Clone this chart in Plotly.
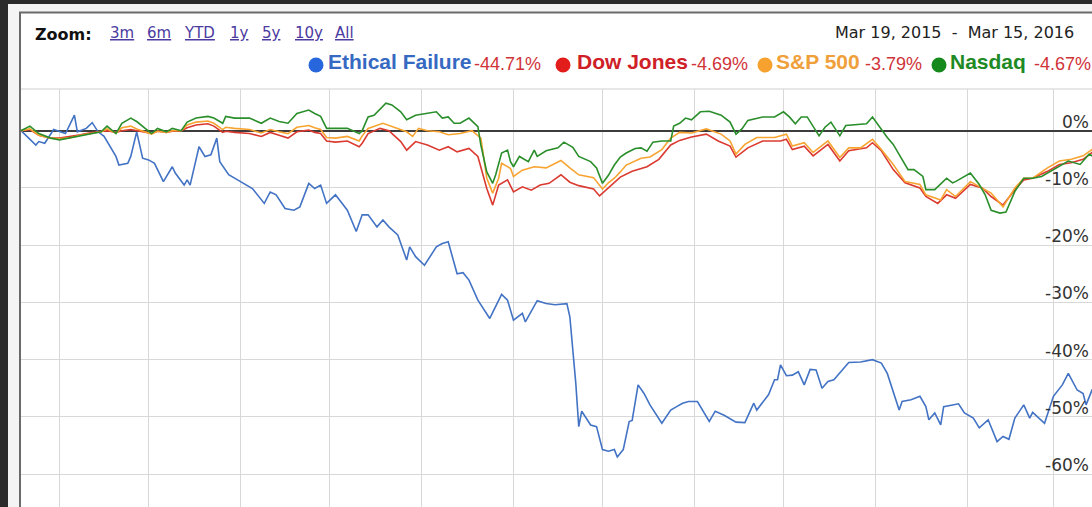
import pandas as pd
import plotly.graph_objects as go

# ---------------- data ----------------
start_date = "2015-03-19"
end_view = "2016-03-14"

# day offsets from start date and % change values
days_ef = [0,5,6,8,11,13,15,18,19,22,24,26,28,32,33,36,37,39,41,43,45,48,51,52,55,56,57,60,62,64,
           66,67,70,73,75,78,82,84,86,89,92,94,97,99,101,103,106,110,113,115,117,120,122,124,127,130,131,133,136,140,
           142,144,147,149,151,154,158,160,162,164,166,169,170,174,177,180,184,185,187,188,189,192,194,196,198,200,201,203,205,206,
           208,210,212,216,219,221,223,225,228,232,234,237,241,244,247,248,252,254,255,256,258,260,262,264,266,268,270,272,274,279,
           283,287,290,292,294,296,297,300,303,305,306,308,310,311,314,316,318,321,323,326,329,331,333,335,338,340,341,345,348,351,
           353,356,358,359,361,362]
ethical = [0,-2.5,-1.9,-2.2,0.2,-0.2,-0.5,2.7,-0.2,0.4,1.4,-0.2,-1.0,-4.5,-6.0,-5.7,-4.5,-0.2,-4.8,-5.1,
           -5.7,-8.9,-6.3,-7.4,-9.5,-8.6,-9.5,-2.8,-4.5,-4.2,-1.3,-5.4,-7.7,-8.6,-9.2,-10.1,-12.7,-10.7,-11.2,-13.6,
           -13.9,-13.3,-9.2,-10.1,-9.5,-12.7,-11.2,-13.9,-17.6,-14.7,-14.7,-16.8,-15.6,-16.8,-18.2,-22.6,-20.3,-22.0,-23.5,-20.3,
           -19.7,-19.4,-25.0,-24.8,-26.1,-29.6,-32.8,-30.7,-28.6,-29.6,-33.1,-31.9,-33.4,-29.7,-30.2,-30.4,-30.2,-32.5,-44.1,-51.7,
           -49.0,-51.4,-51.7,-55.7,-56.0,-55.7,-57.0,-55.7,-50.8,-50.6,-44.4,-45.9,-47.9,-51.1,-48.8,-48.2,-47.6,-47.3,-47.3,-50.8,
           -49.0,-49.7,-50.9,-51.0,-47.6,-48.8,-46.1,-43.5,-43.5,-40.9,-42.8,-42.7,-42.1,-44.4,-41.7,-41.8,-45.0,-43.8,-43.5,-40.5,
           -40.4,-40.0,-40.6,-42.4,-45.6,-48.8,-47.3,-47.0,-46.4,-48.2,-50.5,-49.3,-51.4,-48.2,-47.9,-47.7,-49.3,-50.2,-51.9,-50.5,
           -54.3,-53.4,-53.9,-50.2,-47.9,-50.2,-49.2,-51.1,-46.4,-44.4,-42.4,-45.3,-45.9,-47.9,-45.3,-44.71]

days_nq = [0,3,6,10,13,17,20,23,27,29,32,34,37,39,42,44,46,49,51,54,56,59,63,65,68,69,72,77,81,84,
           87,90,93,97,99,101,103,106,110,114,115,117,119,123,125,128,130,133,137,140,142,144,146,148,151,154,155,157,159,160,
           162,164,165,166,168,171,173,174,177,181,183,186,188,192,194,196,198,200,202,204,207,209,211,213,216,219,220,222,224,226,
           229,232,236,239,241,243,245,250,254,257,259,261,263,265,269,271,273,276,278,283,285,287,289,292,294,297,299,301,304,305,
           308,312,314,315,320,323,325,327,330,332,335,338,341,344,350,353,357,360,362]
nasdaq = [0,0.8,-0.5,-1.3,-1.6,-1.2,-1.0,-0.6,-0.2,0.8,-0.5,1.3,2.2,1.6,0.4,-0.5,0.4,-0.2,0.4,0,1.5,2.2,2.5,2.2,1.3,2.5,2.2,2.2,1.3,2.2,
          1.6,1.3,3.0,3.6,3.0,2.5,0.4,0.4,0.4,-0.5,0,2.4,2.7,4.8,4.5,3.3,1.9,2.7,3.0,3.3,2.2,2.4,1.3,1.3,2.2,0.7,-2.5,-7.2,-9.2,-7.7,
          -3.9,-3.4,-5.4,-6.3,-4.5,-5.4,-3.4,-4.5,-3.5,-3.0,-2.0,-2.9,-4.5,-5.4,-6.5,-9.2,-7.8,-6.0,-4.6,-3.9,-3.1,-3.0,-3.6,-2.0,-1.8,-1.8,0.8,1.3,2.2,1.9,
          3.3,3.4,2.7,1.5,-0.6,0.3,1.8,2.4,2.4,3.3,2.4,1.2,2.4,2.4,-0.9,0.6,1.5,-0.9,0.9,1.2,1.2,2.4,0.9,-1.2,-2.4,-5.0,-6.8,-6.8,-8.0,-10.3,
          -10.3,-8.3,-9.1,-8.9,-7.4,-9.4,-11.2,-13.9,-14.4,-14.2,-10.6,-8.3,-8.3,-8.0,-6.2,-5.3,-5.9,-4.1,-4.67]

days_sp = [0,3,6,10,13,17,20,23,27,29,32,34,37,39,42,44,46,49,51,54,56,59,63,65,68,69,72,77,81,84,
           87,90,93,97,99,101,103,106,110,114,115,117,122,125,130,132,134,137,141,144,148,152,155,157,159,161,162,165,166,169,
           173,177,182,185,188,193,196,198,200,202,204,209,212,216,219,222,226,231,236,239,241,244,248,254,258,260,264,267,272,276,
           279,283,287,290,294,298,303,305,310,312,315,320,323,327,331,335,338,341,346,350,354,358,361,362]
sp500 = [0,0.3,-0.8,-1.3,-1.4,-1.2,-0.8,-0.5,-0.2,0.3,-0.4,0.5,0.8,0.3,-0.3,-0.6,-0.1,-0.3,0,0,1.0,1.5,1.7,1.3,0.2,0.6,0.4,0.2,-0.4,0.2,
         -0.2,-0.5,0.6,0.9,0.5,0.2,-1.2,-1.3,-1.0,-1.8,-0.9,0.4,1.3,0.7,-0.2,-1.0,0.4,0,-0.2,-0.7,-0.5,0,-1.3,-8.3,-10.9,-8.3,-5.7,-6.6,-8.0,-6.9,
         -6.3,-6.5,-5.2,-6.5,-7.7,-8.2,-10.2,-9.1,-8.3,-7.2,-6.0,-4.8,-4.6,-3.3,-1.3,-0.3,-0.4,0.3,-0.6,-1.8,-4.1,-2.4,-1.2,-1.2,-0.6,-2.7,-2.1,-3.8,-1.8,-4.7,
         -3.0,-3.0,-1.5,-3.3,-5.9,-8.9,-9.4,-11.2,-12.1,-10.3,-11.5,-8.9,-9.7,-10.9,-13.3,-10.0,-8.3,-8.3,-6.5,-5.3,-5.0,-4.4,-3.3,-3.79]

days_dj = [0,3,6,10,13,17,20,23,27,29,32,34,37,39,42,44,46,49,51,54,56,59,63,65,68,69,72,77,81,84,
           87,90,93,97,99,101,103,106,110,114,115,117,121,124,128,130,133,137,141,144,147,151,154,157,159,161,164,166,169,172,
           175,178,182,185,188,193,195,198,202,206,211,215,219,222,226,231,235,239,241,245,250,256,258,260,264,267,272,276,279,285,
           287,290,294,298,303,305,309,312,315,320,324,327,331,335,338,341,346,350,354,358,361,362]
dow = [0,0.2,-0.8,-1.3,-1.3,-1.0,-0.7,-0.4,-0.2,0,-0.3,0,0.2,0,-0.3,-0.5,-0.1,-0.3,-0.1,0,0.5,1.0,1.2,0.8,-0.3,-0.1,-0.3,-0.5,-1.0,-0.3,
       -0.8,-1.3,-0.2,0.1,-0.3,-0.5,-1.8,-2.0,-1.8,-2.8,-2.2,-0.5,0.4,0,-1.9,-3.4,-1.9,-2.5,-3.4,-2.8,-3.7,-3.1,-4.5,-10.1,-13.0,-9.5,-8.6,-10.7,-9.8,-10.4,
       -9.5,-9.2,-7.7,-9.0,-9.6,-10.2,-11.4,-10.0,-8.1,-7.1,-6.3,-5.0,-2.5,-1.7,-1.1,-0.6,-1.8,-2.7,-4.6,-3.0,-1.8,-1.8,-1.5,-3.3,-2.7,-4.4,-2.4,-5.3,-3.5,-3.0,
       -2.1,-3.5,-6.8,-9.1,-10.0,-11.5,-12.7,-11.2,-11.8,-9.4,-10.0,-11.5,-13.0,-10.3,-8.6,-8.3,-7.1,-5.9,-5.6,-5.0,-3.8,-4.69]

series_names = ["Ethical Failure", "Dow Jones", "S&P 500", "Nasdaq"]
series_changes = ["-44.71%", "-4.69%", "-3.79%", "-4.67%"]
tick_vals = [0, -10, -20, -30, -40, -50, -60]
tick_text = ["0%", "-10%", "-20%", "-30%", "-40%", "-50%", "-60%"]
zoom_links = ["3m", "6m", "YTD", "1y", "5y", "10y", "All"]
date_range_text = "Mar 19, 2015\u00a0\u00a0-\u00a0\u00a0Mar 15, 2016"

# ---------------- styling / layout ----------------
W, H = 1092, 507
L, T = 21, 89
Y_RANGE = [-65.73, 7.28]

def fx(px):
    return (px - L) / (W - L)

def fy(py):
    return (H - py) / (H - T)

def to_dates(days):
    s = pd.Timestamp(start_date)
    return [s + pd.Timedelta(days=d) for d in days]

line_colors = ["#4373c4", "#db3a30", "#f8a431", "#2a8e2b"]
dot_colors = ["#2766dd", "#e31c1c", "#f7a22f", "#15891c"]
name_colors = ["#3569c2", "#cf2027", "#f0a03a", "#1e8a24"]
pct_color = "#d03338"

fig = go.Figure()
all_days = [days_ef, days_dj, days_sp, days_nq]
all_vals = [ethical, dow, sp500, nasdaq]
for i in range(4):
    fig.add_trace(go.Scatter(
        x=to_dates(all_days[i]), y=all_vals[i], mode="lines",
        line=dict(color=line_colors[i], width=1.6),
        name=series_names[i], hoverinfo="skip",
    ))

shapes = [
    dict(type="rect", xref="paper", yref="paper", x0=fx(8), x1=fx(1110), y0=fy(530), y1=fy(4),
         fillcolor="#f4f4f4", line=dict(width=0), layer="below"),
    dict(type="rect", xref="paper", yref="paper", x0=fx(20), x1=fx(1120), y0=fy(540), y1=fy(12.5),
         fillcolor="white", line=dict(color="#6a6a6a", width=2), layer="below"),
    dict(type="line", xref="paper", yref="paper", x0=0, x1=1, y0=1, y1=1,
         line=dict(color="#cfcfcf", width=1), layer="below"),
]

# legend dots
dot_centers = [316, 563, 765, 939]
dot_r = 7.5
for cx, col in zip(dot_centers, dot_colors):
    shapes.append(dict(type="circle", xref="paper", yref="paper",
                       x0=fx(cx - dot_r), x1=fx(cx + dot_r), y0=fy(65 + dot_r), y1=fy(65 - dot_r),
                       fillcolor=col, line=dict(width=0), layer="above"))

annotations = []
annotations.append(dict(text="<b>Zoom:</b>", xref="paper", yref="paper", x=fx(33), y=fy(34),
                        xanchor="left", yanchor="middle", showarrow=False,
                        font=dict(family="DejaVu Sans", size=16, color="#111111")))
link_x = [108, 145, 182, 228, 260, 293, 333]
for t, lx in zip(zoom_links, link_x):
    annotations.append(dict(text=t, xref="paper", yref="paper", x=fx(lx), y=fy(33),
                            xanchor="left", yanchor="middle", showarrow=False,
                            font=dict(family="DejaVu Sans", size=15, color="#4b3ba0", lineposition="under")))
annotations.append(dict(text=date_range_text, xref="paper", yref="paper", x=fx(1076), y=fy(33),
                        xanchor="right", yanchor="middle", showarrow=False,
                        font=dict(family="DejaVu Sans", size=16, color="#222222")))
name_x = [326, 575, 774, 948]
pct_x = [472, 689, 863, 1032]
for i in range(4):
    annotations.append(dict(text="<b>" + series_names[i] + "</b>", xref="paper", yref="paper",
                            x=fx(name_x[i]), y=fy(62), xanchor="left", yanchor="middle", showarrow=False,
                            font=dict(family="Liberation Sans", size=21, color=name_colors[i])))
    annotations.append(dict(text=series_changes[i], xref="paper", yref="paper",
                            x=fx(pct_x[i]), y=fy(63.5), xanchor="left", yanchor="middle", showarrow=False,
                            font=dict(family="Liberation Sans", size=18, color=pct_color)))
for v, t in zip(tick_vals, tick_text):
    annotations.append(dict(text=t, xref="paper", yref="y", x=fx(1091), y=v,
                            xanchor="right", yanchor="bottom", yshift=-3, showarrow=False,
                            font=dict(family="DejaVu Sans", size=17, color="#333333")))

fig.update_layout(
    width=W, height=H,
    margin=dict(l=L, r=0, t=T, b=0, pad=0),
    paper_bgcolor="#2b2b2b",
    plot_bgcolor="white",
    showlegend=False,
    shapes=shapes,
    annotations=annotations,
    xaxis=dict(type="date", range=[start_date, end_view], dtick="M1", tick0="2015-04-01",
               showgrid=True, gridcolor="#d8d8d8", gridwidth=1, showticklabels=False,
               ticks="", zeroline=False, showline=False, fixedrange=True),
    yaxis=dict(range=Y_RANGE, dtick=10, tick0=0, showgrid=True, gridcolor="#d8d8d8", gridwidth=1,
               zeroline=True, zerolinecolor="#3c3c3c", zerolinewidth=1.5,
               showticklabels=False, ticks="", showline=False, fixedrange=True),
)

fig.write_html(
    "out.html",
    config={"displayModeBar": False},
    post_script="document.body.style.margin='0';document.body.style.padding='0';"
                "document.body.style.overflow='hidden';document.body.style.background='#2b2b2b';",
)
